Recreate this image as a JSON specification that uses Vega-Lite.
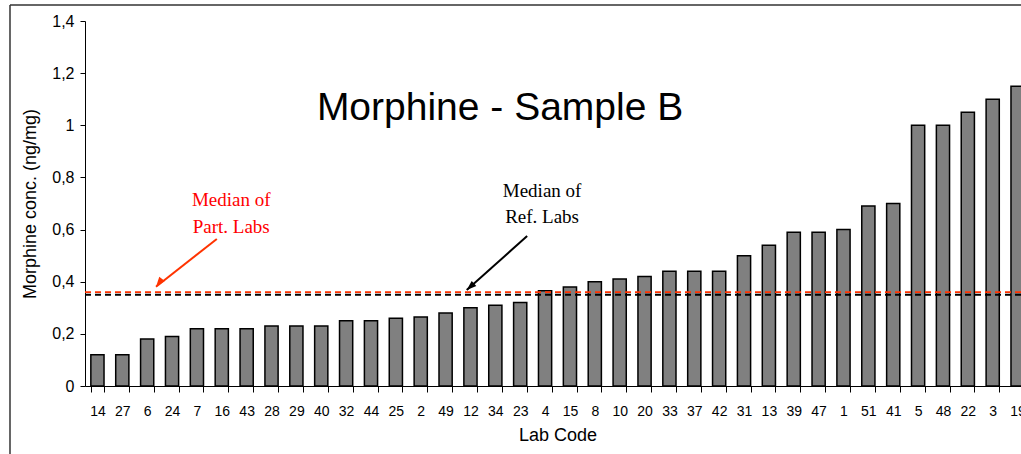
{
  "$schema": "https://vega.github.io/schema/vega-lite/v6.json",
  "width": 936,
  "height": 365,
  "autosize": {"type": "none"},
  "padding": {"left": 85, "top": 21, "right": 0, "bottom": 68},
  "background": "white",
  "config": {
    "view": {"stroke": null},
    "font": "Liberation Sans",
    "axis": {"domainColor": "black", "tickColor": "black", "labelColor": "black", "titleColor": "black", "titleFontWeight": "normal", "grid": false, "labelFont": "Liberation Sans", "titleFont": "Liberation Sans"}
  },
  "datasets": {
    "bars": [
      {"lab": "14", "value": 0.12}, {"lab": "27", "value": 0.12}, {"lab": "6", "value": 0.18},
      {"lab": "24", "value": 0.19}, {"lab": "7", "value": 0.22}, {"lab": "16", "value": 0.22},
      {"lab": "43", "value": 0.22}, {"lab": "28", "value": 0.23}, {"lab": "29", "value": 0.23},
      {"lab": "40", "value": 0.23}, {"lab": "32", "value": 0.25}, {"lab": "44", "value": 0.25},
      {"lab": "25", "value": 0.26}, {"lab": "2", "value": 0.265}, {"lab": "49", "value": 0.28},
      {"lab": "12", "value": 0.30}, {"lab": "34", "value": 0.31}, {"lab": "23", "value": 0.32},
      {"lab": "4", "value": 0.365}, {"lab": "15", "value": 0.38}, {"lab": "8", "value": 0.40},
      {"lab": "10", "value": 0.41}, {"lab": "20", "value": 0.42}, {"lab": "33", "value": 0.44},
      {"lab": "37", "value": 0.44}, {"lab": "42", "value": 0.44}, {"lab": "31", "value": 0.50},
      {"lab": "13", "value": 0.54}, {"lab": "39", "value": 0.59}, {"lab": "47", "value": 0.59},
      {"lab": "1", "value": 0.60}, {"lab": "51", "value": 0.69}, {"lab": "41", "value": 0.70},
      {"lab": "5", "value": 1.00}, {"lab": "48", "value": 1.00}, {"lab": "22", "value": 1.05},
      {"lab": "3", "value": 1.10}, {"lab": "19", "value": 1.15}
    ],
    "medians": [
      {"group": "part", "value": 0.36},
      {"group": "ref", "value": 0.35}
    ],
    "labels": [
      {"group": "part", "pos": 5.88, "value": 0.69, "text": "Median of"},
      {"group": "part", "pos": 5.88, "value": 0.587, "text": "Part. Labs"},
      {"group": "ref", "pos": 18.38, "value": 0.726, "text": "Median of"},
      {"group": "ref", "pos": 18.38, "value": 0.624, "text": "Ref. Labs"}
    ],
    "arrows": [
      {"group": "part", "pos": 5.30, "value": 0.564, "pos2": 2.855, "value2": 0.381},
      {"group": "ref", "pos": 17.78, "value": 0.575, "pos2": 15.35, "value2": 0.368}
    ],
    "frame": [
      {"pos": -3.016, "value": 1.4614, "pos2": 38.5, "value2": 1.4614},
      {"pos": -3.016, "value": 1.4614, "pos2": -3.016, "value2": -0.35}
    ],
    "title": [
      {"pos": 16.69, "value": 1.02, "text": "Morphine - Sample B"}
    ]
  },
  "layer": [
    {
      "data": {"name": "frame"},
      "mark": {"type": "rule", "strokeWidth": 1.5, "color": "#333333"},
      "encoding": {
        "x": {"field": "pos", "type": "quantitative", "scale": {"domain": [0, 38], "range": [0, 945], "nice": false, "zero": false}, "axis": null},
        "x2": {"field": "pos2"},
        "y": {"field": "value", "type": "quantitative"},
        "y2": {"field": "value2"}
      }
    },
    {
      "data": {"name": "bars"},
      "mark": {"type": "bar", "fill": "#808080", "stroke": "black", "strokeWidth": 1.5},
      "encoding": {
        "x": {
          "field": "lab", "type": "nominal", "sort": null,
          "scale": {"range": [0, 945], "paddingInner": 0.47, "paddingOuter": 0.235},
          "axis": {"title": "Lab Code", "labelAngle": 0, "tickBand": "extent", "tickSize": 6, "labelPadding": 12, "labelFontSize": 14, "titleFontSize": 18, "titlePadding": 8, "domainWidth": 1}
        },
        "y": {
          "field": "value", "type": "quantitative",
          "scale": {"domain": [0, 1.4], "nice": false},
          "axis": {"title": "Morphine conc. (ng/mg)", "values": [0, 0.2, 0.4, 0.6, 0.8, 1, 1.2, 1.4], "labelExpr": "replace(format(datum.value, '.1~f'), '.', ',')", "tickSize": 5, "labelPadding": 6, "labelFontSize": 16, "titleFontSize": 18, "titlePadding": 12}
        }
      }
    },
    {
      "data": {"name": "medians"},
      "mark": {"type": "rule", "strokeDash": [6, 4], "strokeWidth": 1.8},
      "encoding": {
        "y": {"field": "value", "type": "quantitative"},
        "color": {"field": "group", "type": "nominal", "scale": {"domain": ["part", "ref"], "range": ["#ff3300", "#000000"]}, "legend": null}
      }
    },
    {
      "data": {"name": "arrows"},
      "mark": {"type": "rule", "strokeWidth": 2},
      "encoding": {
        "x": {"field": "pos", "type": "quantitative", "scale": {"domain": [0, 38], "range": [0, 945], "nice": false, "zero": false}, "axis": null},
        "x2": {"field": "pos2"},
        "y": {"field": "value", "type": "quantitative"},
        "y2": {"field": "value2"},
        "color": {"field": "group", "type": "nominal", "scale": {"domain": ["part", "ref"], "range": ["#ff3300", "#000000"]}, "legend": null}
      }
    },
    {
      "data": {"name": "arrows"},
      "transform": [{"filter": "datum.group === 'part'"}],
      "mark": {"type": "point", "shape": "M0,0L0.5,1.4L-0.5,1.4Z", "filled": true, "size": 196, "angle": 218, "color": "#ff3300", "opacity": 1},
      "encoding": {
        "x": {"field": "pos2", "type": "quantitative", "scale": {"domain": [0, 38], "range": [0, 945], "nice": false, "zero": false}, "axis": null},
        "y": {"field": "value2", "type": "quantitative"}
      }
    },
    {
      "data": {"name": "arrows"},
      "transform": [{"filter": "datum.group === 'ref'"}],
      "mark": {"type": "point", "shape": "M0,0L0.5,1.4L-0.5,1.4Z", "filled": true, "size": 196, "angle": 228, "color": "#000000", "opacity": 1},
      "encoding": {
        "x": {"field": "pos2", "type": "quantitative", "scale": {"domain": [0, 38], "range": [0, 945], "nice": false, "zero": false}, "axis": null},
        "y": {"field": "value2", "type": "quantitative"}
      }
    },
    {
      "data": {"name": "labels"},
      "mark": {"type": "text", "font": "Liberation Serif", "fontSize": 19, "baseline": "alphabetic", "align": "center"},
      "encoding": {
        "x": {"field": "pos", "type": "quantitative", "scale": {"domain": [0, 38], "range": [0, 945], "nice": false, "zero": false}, "axis": null},
        "y": {"field": "value", "type": "quantitative"},
        "text": {"field": "text"},
        "color": {"field": "group", "type": "nominal", "scale": {"domain": ["part", "ref"], "range": ["#ff0000", "#000000"]}, "legend": null}
      }
    },
    {
      "data": {"name": "title"},
      "mark": {"type": "text", "font": "Liberation Sans", "fontSize": 39, "baseline": "alphabetic", "align": "center", "color": "black"},
      "encoding": {
        "x": {"field": "pos", "type": "quantitative", "scale": {"domain": [0, 38], "range": [0, 945], "nice": false, "zero": false}, "axis": null},
        "y": {"field": "value", "type": "quantitative"},
        "text": {"field": "text"}
      }
    }
  ],
  "resolve": {"scale": {"x": "independent", "color": "independent"}}
}
